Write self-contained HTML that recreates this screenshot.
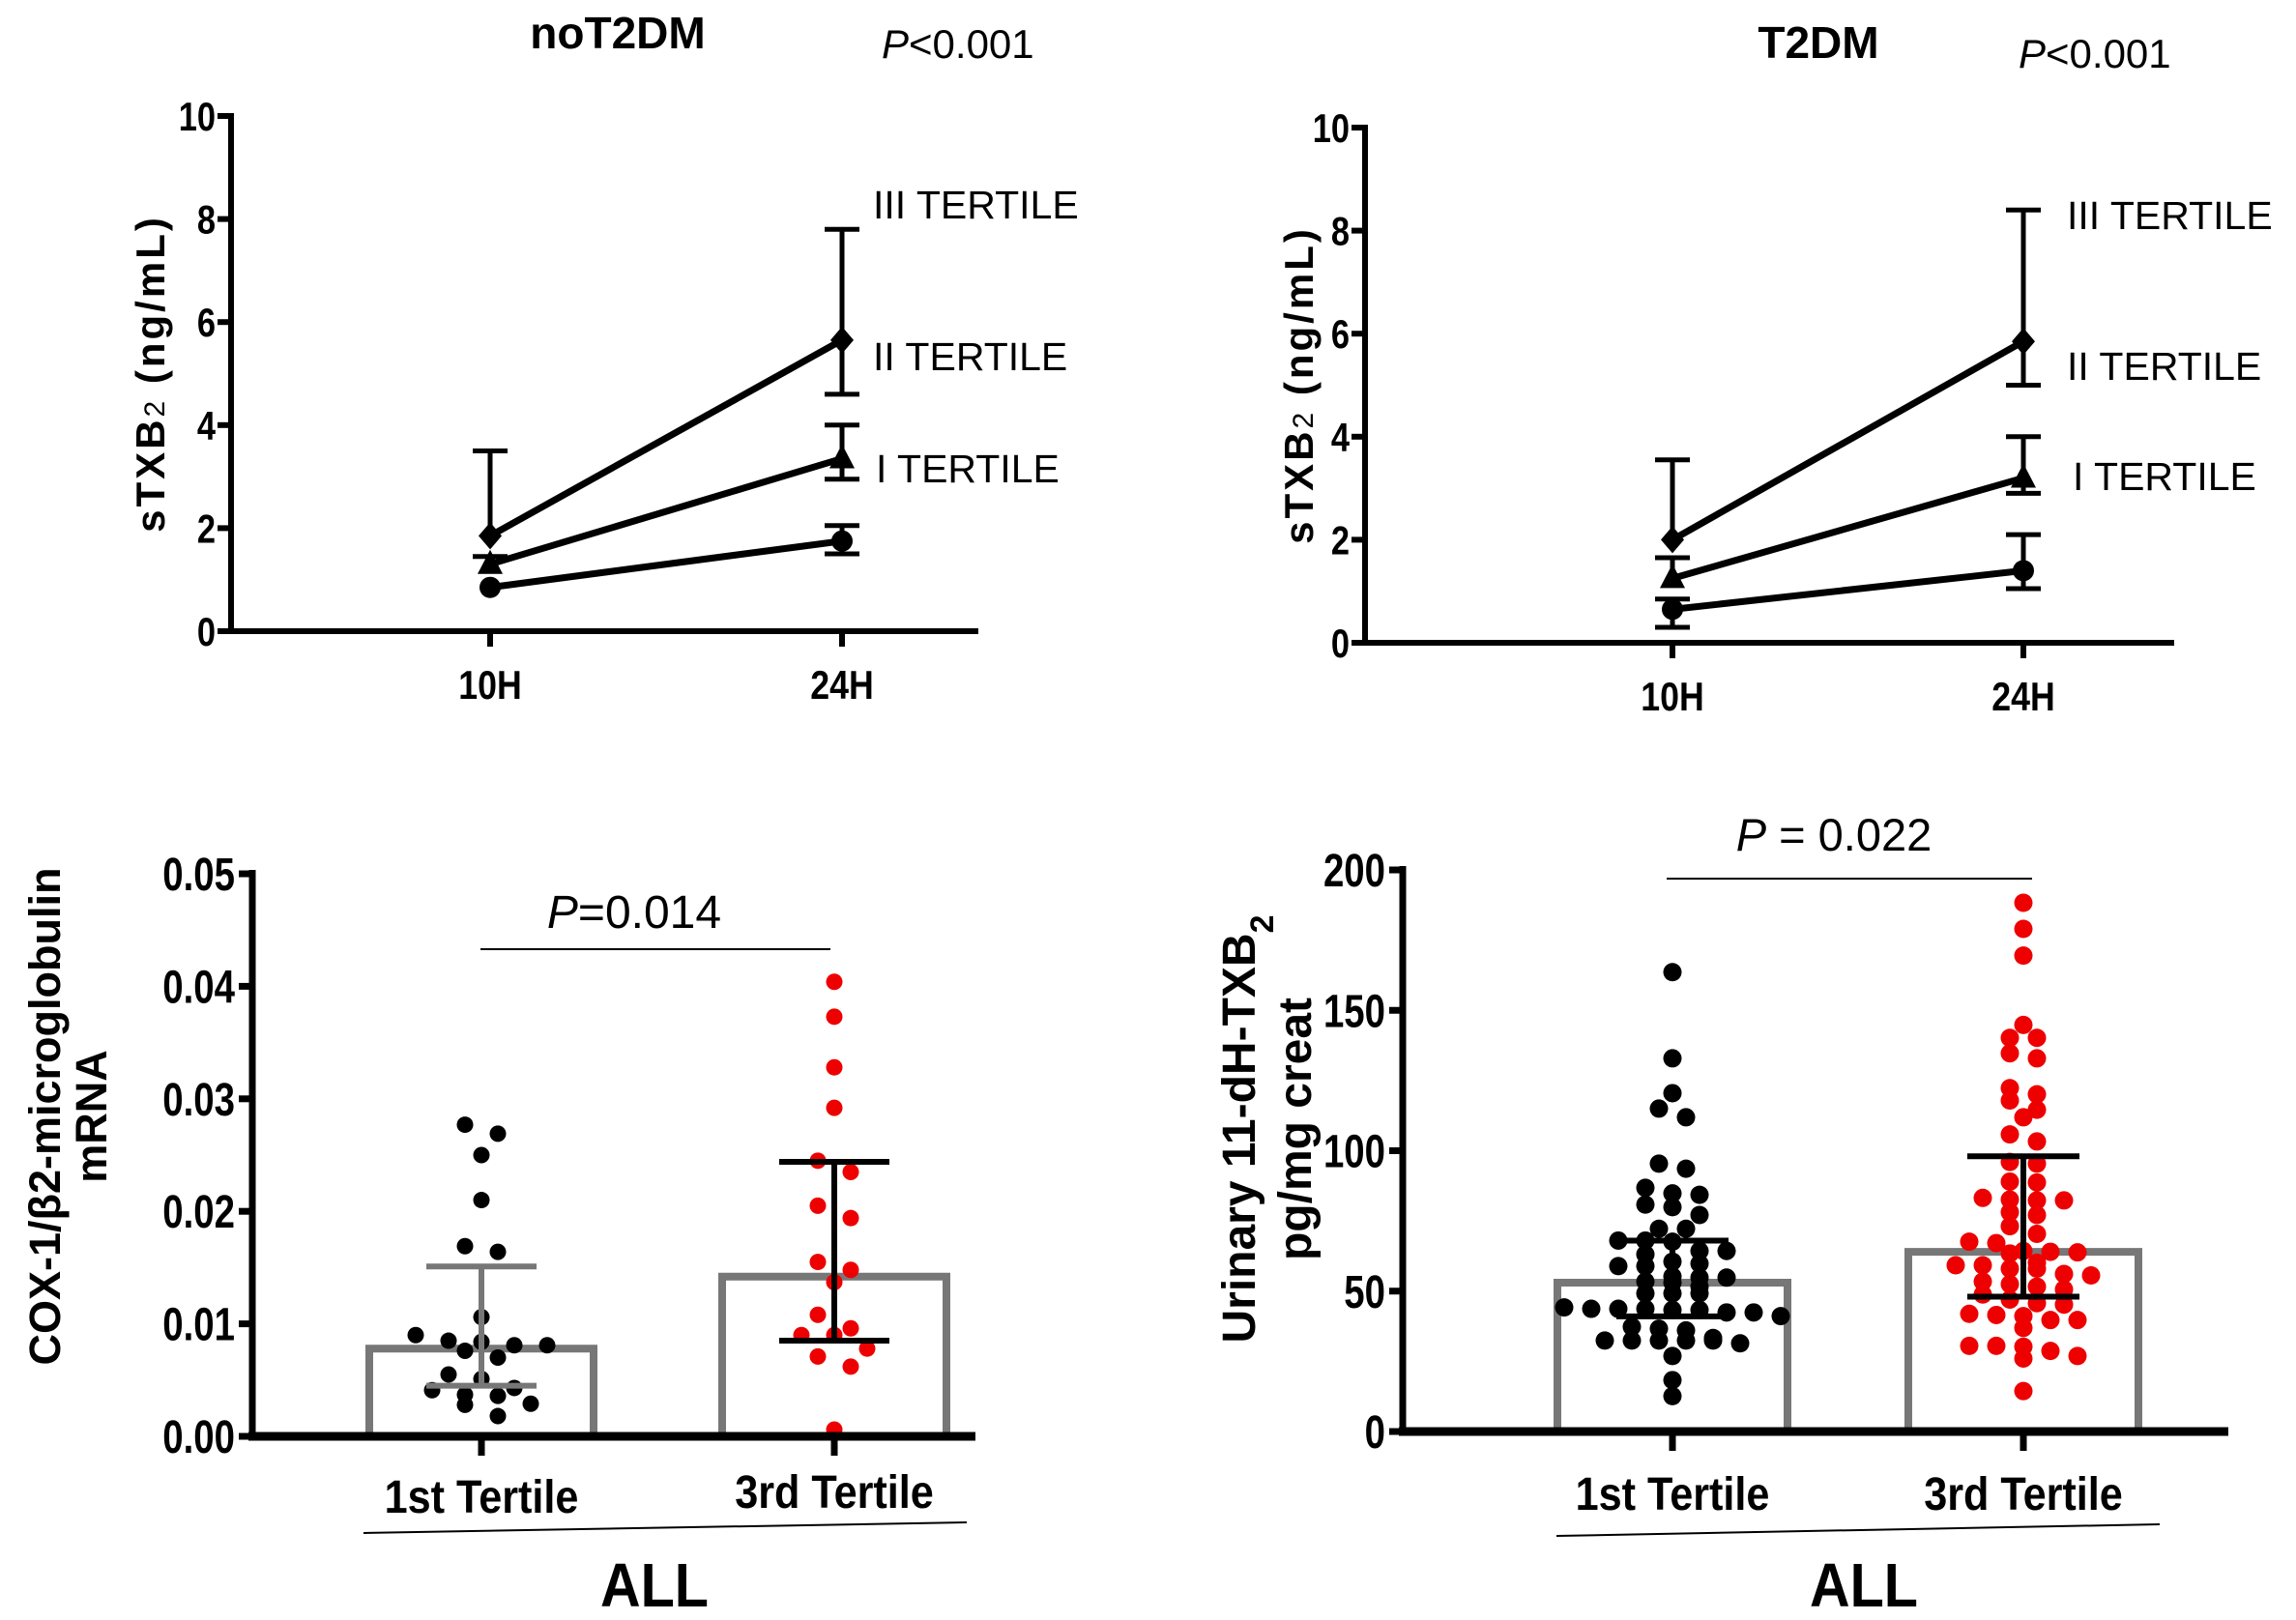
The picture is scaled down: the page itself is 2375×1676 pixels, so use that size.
<!DOCTYPE html>
<html><head><meta charset="utf-8"><style>
html,body{margin:0;padding:0;background:#fff;}
svg{display:block;}
text{font-family:"Liberation Sans",sans-serif;}
.cond{font-family:"Liberation Sans Narrow","Liberation Sans",sans-serif;}
</style></head><body>
<svg id="fig" width="2375" height="1676" viewBox="0 0 2375 1676" xmlns="http://www.w3.org/2000/svg">
<g id="pA"></g>
<g id="pB"></g>
<g id="pC"></g>
<g id="pD"></g>
</svg>
<script>
// ---- data: line panels ----
const timeCats = ["10H", "24H"];
const aTickLabels = ["0", "2", "4", "6", "8", "10"];
const aCircle = [0.85, 1.75], aCircleLo = [0.85, 1.5], aCircleHi = [0.9, 2.05];
const aTri = [1.3, 3.35], aTriLo = [1.3, 2.95], aTriHi = [1.45, 4.0];
const aDia = [1.85, 5.65], aDiaLo = [1.85, 4.6], aDiaHi = [3.5, 7.8];
const bCircle = [0.65, 1.4], bCircleLo = [0.3, 1.05], bCircleHi = [0.85, 2.1];
const bTri = [1.25, 3.2], bTriLo = [1.25, 2.9], bTriHi = [1.65, 4.0];
const bDia = [2.0, 5.85], bDiaLo = [2.0, 5.0], bDiaHi = [3.55, 8.4];
// ---- data: COX-1 panel ----
const groupCats = ["1st Tertile", "3rd Tertile"];
const cTickLabels = ["0.00", "0.01", "0.02", "0.03", "0.04", "0.05"];
const cFirst = [0.0277,0.0269,0.0250,0.0210,0.0169,0.0164,0.0106,0.0085,0.0081,0.0090,0.0084,0.0081,0.0076,0.0070,0.0051,0.0055,0.0043,0.0036,0.0037,0.0041,0.0028,0.0029,0.0018];
const cThird = [0.0404,0.0373,0.0328,0.0292,0.0245,0.0235,0.0205,0.0194,0.0155,0.0148,0.0137,0.0108,0.0090,0.0090,0.0096,0.0078,0.0071,0.0062,0.0006];
const cMeans = [0.0078, 0.0142];
const cErrLo = [0.0045, 0.0085];
const cErrHi = [0.0151, 0.0244];
// ---- data: urinary panel ----
const dTickLabels = ["0", "50", "100", "150", "200"];
const dFirst = [163.6,132.9,120.5,115,111.9,95.4,93.6,84.3,86.8,84.8,80.8,79.9,77.1,72.2,72.2,68.0,68.0,67.6,63.1,60.5,64.3,64.3,54.8,59.8,58.9,58.9,55.2,54.8,51.6,53.0,49.2,53.4,49.2,49.2,44.2,42.4,42.4,43.7,43.3,43.7,43.3,43.7,41.1,37.3,36.0,36.6,32.4,32.4,32.4,33.3,32.4,32.4,31.4,26.9,18.3,12.6];
const dThird = [188.3,179.0,169.5,144.8,140.2,140.2,134.7,132.9,122.3,120.1,117.9,114.6,111.9,105.8,103.3,95.4,96.0,89.0,88.7,82.6,83.2,82.3,82.3,77.1,78.1,70.4,73.1,67.1,67.6,64.0,63.4,64.3,63.8,58.0,59.2,60.1,59.2,58.0,53.4,56.1,55.6,52.5,50.6,51.6,47.0,45.7,45.2,48.8,41.1,39.7,41.5,39.7,41.9,36.9,30.5,30.5,30.2,28.7,26.9,26.0,14.4];
const dMeans = [53, 64];
const dErrLo = [41, 48];
const dErrHi = [68, 98];

const NS = "http://www.w3.org/2000/svg";
function mk(parent, tag, attrs, txt) {
  const e = document.createElementNS(NS, tag);
  for (const k in attrs) e.setAttribute(k, attrs[k]);
  if (txt !== undefined) e.textContent = txt;
  parent.appendChild(e);
  return e;
}
function lin(d0, d1, r0, r1) { return v => r0 + (v - d0) * (r1 - r0) / (d1 - d0); }

function linePanel(g, cfg) {
  const y = lin(0, 10, cfg.y0, cfg.y10);
  const x = i => cfg.xs[i];
  let e;
  e = mk(g, "line", {x1: cfg.ax, y1: cfg.y10 - 3, x2: cfg.ax, y2: cfg.y0 + 3, stroke: "#000", "stroke-width": 6});
  
  
  e = mk(g, "line", {x1: cfg.ax - 3, y1: cfg.y0, x2: cfg.axEnd, y2: cfg.y0, stroke: "#000", "stroke-width": 6});
  
  
  aTickLabels.forEach((t, i) => {
    const v = +t, yy = y(v);
    e = mk(g, "line", {x1: cfg.ax - 14, y1: yy, x2: cfg.ax, y2: yy, stroke: "#000", "stroke-width": 6});
    
    
    e = mk(g, "text", {transform: `translate(${cfg.ax - 16},${yy + 15}) scale(0.82,1)`, "text-anchor": "end", "font-size": 42, "font-weight": "bold", class: "cond"}, t);
    
    
  });
  timeCats.forEach((c, i) => {
    e = mk(g, "line", {x1: x(i), y1: cfg.y0, x2: x(i), y2: cfg.y0 + 16, stroke: "#000", "stroke-width": 6});
    
    
    e = mk(g, "text", {transform: `translate(${x(i)},${cfg.y0 + 70}) scale(0.85,1)`, "text-anchor": "middle", "font-size": 42, "font-weight": "bold", class: "cond"}, c);
    
    
  });
  cfg.series.forEach(s => {
    const pts = s.v.map((v, i) => x(i) + "," + y(v)).join(" ");
    e = mk(g, "polyline", {points: pts, fill: "none", stroke: "#000", "stroke-width": 7});
    
    
    s.v.forEach((v, i) => {
      const xx = x(i);
      e = mk(g, "path", {d: `M${xx},${y(s.lo[i])}V${y(s.hi[i])}` +
        (s.hi[i] > v + 0.05 ? `M${xx-18},${y(s.hi[i])}H${xx+18}` : "") +
        (s.lo[i] < v - 0.05 ? `M${xx-18},${y(s.lo[i])}H${xx+18}` : ""), stroke: "#000", "stroke-width": 5, fill: "none"});
      
      
      const yy = y(v);
      if (s.shape === "circle") e = mk(g, "circle", {cx: xx, cy: yy, r: 11, fill: "#000"});
      else if (s.shape === "tri") e = mk(g, "path", {d: `M${xx},${yy-15}L${xx+13},${yy+10}L${xx-13},${yy+10}Z`, fill: "#000"});
      else e = mk(g, "path", {d: `M${xx},${yy-14}L${xx+12},${yy}L${xx},${yy+14}L${xx-12},${yy}Z`, fill: "#000"});
      
      
    });
  });
  e = mk(g, "text", {x: cfg.titleX, y: cfg.titleY, "text-anchor": "middle", "font-size": 46, "font-weight": "bold"}, cfg.title);
  
  
  e = mk(g, "text", {x: cfg.pX, y: cfg.titleY + 10, "font-size": 42, class: "cond"});
  
  
  mk(e, "tspan", {"font-style": "italic"}, "P");
  mk(e, "tspan", {}, "<0.001");
  e = mk(g, "text", {transform: `translate(${cfg.ytX},${(cfg.y0 + cfg.y10) / 2}) rotate(-90)`, "text-anchor": "middle", "font-size": 42, "font-weight": "bold", "letter-spacing": 3});
  
  
  mk(e, "tspan", {}, "sTXB");
  mk(e, "tspan", {"font-size": 30, "font-weight": "normal"}, "2");
  mk(e, "tspan", {}, " (ng/mL)");
  cfg.labels.forEach(l => {
    e = mk(g, "text", {x: l[0], y: l[1], "font-size": 41, class: "cond"}, l[2]);
    
    
  });
}

linePanel(document.getElementById("pA"), {
  ax: 239, axEnd: 1012, y0: 653, y10: 120, xs: [507, 871],
  title: "noT2DM", titleX: 639, titleY: 50, pX: 912, ytX: 170,
  series: [
    {name: "i-tertile", shape: "circle", v: aCircle, lo: aCircleLo, hi: aCircleHi},
    {name: "ii-tertile", shape: "tri", v: aTri, lo: aTriLo, hi: aTriHi},
    {name: "iii-tertile", shape: "dia", v: aDia, lo: aDiaLo, hi: aDiaHi}],
  labels: [[903, 226, "III TERTILE"], [903, 383, "II TERTILE"], [906, 499, "I TERTILE"]]
});
linePanel(document.getElementById("pB"), {
  ax: 1412, axEnd: 2249, y0: 665, y10: 132, xs: [1730, 2093],
  title: "T2DM", titleX: 1881, titleY: 60, pX: 2088, ytX: 1358,
  series: [
    {name: "i-tertile", shape: "circle", v: bCircle, lo: bCircleLo, hi: bCircleHi},
    {name: "ii-tertile", shape: "tri", v: bTri, lo: bTriLo, hi: bTriHi},
    {name: "iii-tertile", shape: "dia", v: bDia, lo: bDiaLo, hi: bDiaHi}],
  labels: [[2138, 237, "III TERTILE"], [2138, 393, "II TERTILE"], [2144, 507, "I TERTILE"]]
});

function swarm(vals, y, cx, spacing, binPx) {
  const sorted = vals.map(v => ({v, py: y(v)})).sort((a, b) => a.py - b.py);
  const bins = [];
  sorted.forEach(p => {
    const b = bins[bins.length - 1];
    if (b && p.py - b[0].py < binPx) b.push(p); else bins.push([p]);
  });
  const out = [];
  bins.forEach(b => {
    const n = b.length;
    b.forEach((p, i) => out.push({v: p.v, x: cx + (i - (n - 1) / 2) * spacing, y: p.py}));
  });
  return out;
}

function dotPanel(g, cfg) {
  const y = lin(0, cfg.max, cfg.y0, cfg.yTop);
  let e;
  cfg.means.forEach((m, i) => {
    const cx = cfg.xs[i];
    e = mk(g, "path", {d: `M${cx-cfg.bw},${cfg.y0}V${y(m)}H${cx+cfg.bw}V${cfg.y0}`, fill: "none", stroke: "#777", "stroke-width": 8});
    
    
  });
  [cfg.g1, cfg.g2].forEach((vals, gi) => {
    swarm(vals, y, cfg.xs[gi], cfg.spacing, cfg.binPx).forEach(p => {
      e = mk(g, "circle", {cx: p.x, cy: p.y, r: cfg.r, fill: gi === 0 ? "#000" : "#ee0000"});
      
      
    });
  });
  cfg.means.forEach((m, i) => {
    const cx = cfg.xs[i], col = cfg.errCol[i];
    e = mk(g, "path", {d: `M${cx},${y(cfg.lo[i])}V${y(cfg.hi[i])}M${cx-cfg.cap},${y(cfg.lo[i])}H${cx+cfg.cap}M${cx-cfg.cap},${y(cfg.hi[i])}H${cx+cfg.cap}`, stroke: col, "stroke-width": 6, fill: "none"});
    
    
  });
  e = mk(g, "line", {x1: cfg.ax, y1: cfg.yTop - 4, x2: cfg.ax, y2: cfg.y0 + 4, stroke: "#000", "stroke-width": 7});
  
  
  e = mk(g, "line", {x1: cfg.ax - 4, y1: cfg.y0, x2: cfg.axEnd, y2: cfg.y0, stroke: "#000", "stroke-width": 9});
  
  
  cfg.ticks.forEach(t => {
    const yy = y(+t);
    e = mk(g, "line", {x1: cfg.ax - 14, y1: yy, x2: cfg.ax, y2: yy, stroke: "#000", "stroke-width": 7});
    
    
    e = mk(g, "text", {transform: `translate(${cfg.ax - 18},${yy + 17}) scale(0.8,1)`, "text-anchor": "end", "font-size": 48, "font-weight": "bold", class: "cond"}, t);
    
    
  });
  groupCats.forEach((c, i) => {
    e = mk(g, "line", {x1: cfg.xs[i], y1: cfg.y0, x2: cfg.xs[i], y2: cfg.y0 + 20, stroke: "#000", "stroke-width": 7});
    
    
    e = mk(g, "text", {transform: `translate(${cfg.xs[i]},${cfg.catY[i]}) scale(0.9,1)`, "text-anchor": "middle", "font-size": 48, "font-weight": "bold", class: "cond"}, c);
    
    
  });
  e = mk(g, "line", {x1: cfg.ul[0], y1: cfg.ul[1], x2: cfg.ul[2], y2: cfg.ul[3], stroke: "#000", "stroke-width": 2});
  
  
  e = mk(g, "text", {transform: `translate(${cfg.allX},1662) scale(0.9,1)`, "text-anchor": "middle", "font-size": 64, "font-weight": "bold", class: "cond"}, "ALL");
  
  
  e = mk(g, "line", {x1: cfg.pl[0], y1: cfg.pl[2], x2: cfg.pl[1], y2: cfg.pl[2], stroke: "#000", "stroke-width": 2});
  
  
  e = mk(g, "text", {x: cfg.pX, y: cfg.pY, "text-anchor": "middle", "font-size": cfg.pSize, class: "cond"});
  
  
  mk(e, "tspan", {"font-style": "italic"}, "P");
  mk(e, "tspan", {}, cfg.pText);
  cfg.yt.forEach((l, i) => {
    e = mk(g, "text", {transform: `translate(${l[0]},${cfg.ytY}) rotate(-90)`, "text-anchor": "middle", "font-size": cfg.ytSize, "font-weight": "bold"});
    
    
    l[1].forEach(s => mk(e, "tspan", s[1] || {}, s[0]));
  });
}

dotPanel(document.getElementById("pC"), {
  max: 0.05, y0: 1486, yTop: 904, ax: 261, axEnd: 1009, xs: [498, 863], bw: 116,
  g1: cFirst, g2: cThird, means: cMeans, lo: cErrLo, hi: cErrHi, errCol: ["#777", "#000"],
  spacing: 34, binPx: 14, r: 8.5, cap: 57, ticks: cTickLabels,
  catY: [1565, 1560], ul: [376, 1586, 1000, 1575], allX: 677,
  pl: [497, 859, 982], pX: 656, pY: 960, pSize: 48, pText: "=0.014",
  ytY: 1155, ytSize: 45,
  yt: [[62, [["COX-1/β2-microglobulin"]]], [110, [["mRNA"]]]]
});
dotPanel(document.getElementById("pD"), {
  max: 200, y0: 1481, yTop: 900, ax: 1451, axEnd: 2305, xs: [1730, 2093], bw: 119,
  g1: dFirst, g2: dThird, means: dMeans, lo: dErrLo, hi: dErrHi, errCol: ["#000", "#000"],
  spacing: 28, binPx: 12, r: 9.5, cap: 58, ticks: dTickLabels,
  catY: [1562, 1562], ul: [1610, 1589, 2234, 1577], allX: 1928,
  pl: [1724, 2102, 909], pX: 1897, pY: 880, pSize: 47, pText: " = 0.022",
  ytY: 1168, ytSize: 48,
  yt: [[1298, [["Urinary 11-dH-TXB"], ["2", {"font-size": 34, "baseline-shift": "sub"}]]], [1356, [["pg/mg creat"]]]]
});
</script>
</body></html>
